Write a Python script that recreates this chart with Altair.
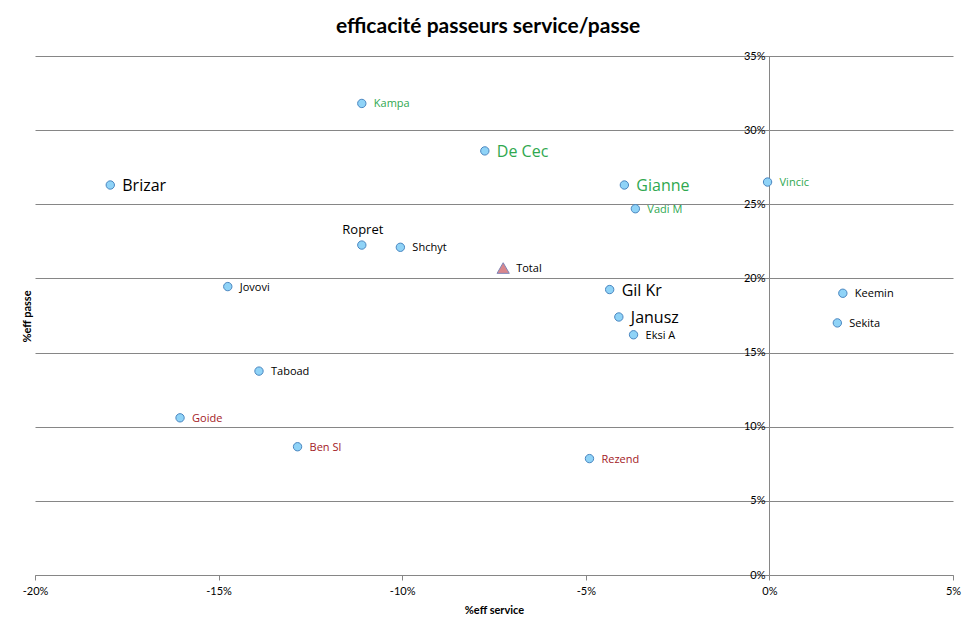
import altair as alt
import pandas as pd

# ---- data (values in %) ----
names = ["Kampa", "De Cec", "Brizar", "Gianne", "Vincic", "Vadi M", "Ropret", "Shchyt",
         "Jovovi", "Gil Kr", "Keemin", "Janusz", "Sekita", "Eksi A", "Taboad", "Goide",
         "Ben Sl", "Rezend"]
eff_service = [-11.1, -7.75, -17.95, -3.95, -0.05, -3.65, -11.1, -10.05,
               -14.75, -4.35, 2.0, -4.1, 1.85, -3.7, -13.9, -16.05,
               -12.85, -4.9]
eff_passe = [31.8, 28.6, 26.3, 26.3, 26.5, 24.7, 22.25, 22.1,
             19.45, 19.25, 19.0, 17.4, 17.0, 16.2, 13.75, 10.6,
             8.65, 7.85]
groups = ["green", "green", "black", "green", "green", "green", "black", "black",
          "black", "black", "black", "black", "black", "black", "black", "red",
          "red", "red"]

total_name = ["Total"]
total_service = [-7.25]
total_passe = [20.7]

x_ticks = [-20, -15, -10, -5, 0, 5]
y_ticks = [0, 5, 10, 15, 20, 25, 30, 35]

# ---- label styling ----
big_labels = {"Brizar": 16, "De Cec": 16, "Gianne": 16, "Gil Kr": 16, "Janusz": 16, "Ropret": 13}

df = pd.DataFrame({
    "name": names,
    "service": [v / 100 for v in eff_service],
    "passe": [v / 100 for v in eff_passe],
    "group": groups,
})
df["fs"] = [big_labels.get(n, 11) for n in names]

dft = pd.DataFrame({
    "name": total_name,
    "service": [v / 100 for v in total_service],
    "passe": [v / 100 for v in total_passe],
})

W, H = 918, 519
FONT = "Lato"
GRID = "#868686"

xenc = alt.X("service:Q",
             scale=alt.Scale(domain=[-0.20, 0.05], nice=False, zero=False),
             axis=alt.Axis(title="%eff service", format=".0%", values=[v / 100 for v in x_ticks],
                           labelExpr="replace(datum.label, '\u2212', '-')",
                           grid=False, ticks=True, tickSize=5, tickColor=GRID,
                           domainColor=GRID, labelPadding=5, labelFontSize=11,
                           labelFont=FONT, labelColor="#000", titleFont=FONT,
                           titleFontSize=11, titleFontWeight="bold", titleColor="#000",
                           titlePadding=8, labelFlush=False))
yenc = alt.Y("passe:Q",
             scale=alt.Scale(domain=[0, 0.35], nice=False),
             axis=alt.Axis(title="%eff passe", format=".0%", values=[v / 100 for v in y_ticks],
                           grid=True, gridColor=GRID, gridWidth=1, ticks=False,
                           domainColor=GRID, offset=-734, labelPadding=4,
                           labelFontSize=11, labelFont=FONT, labelColor="#000",
                           titleFont=FONT, titleFontSize=11, titleFontWeight="bold",
                           titleColor="#000", titleX=-742, titleY=260, titleAngle=270,
                           titleBaseline="middle", titleAlign="center"))

color_scale = alt.Scale(domain=["green", "red", "black"], range=["#2fa84f", "#a3191f", "#000000"])

base = alt.Chart(df)

points = base.mark_point(shape="circle", filled=True, size=70, fill="#8fd3f7",
                         stroke="#4a86c0", strokeWidth=1, opacity=1).encode(x=xenc, y=yenc)

labels = base.transform_filter("datum.name != 'Ropret'").mark_text(
    align="left", baseline="middle", dx=12, dy=1, font="Open Sans").encode(
    x="service:Q", y="passe:Q", text="name:N",
    color=alt.Color("group:N", scale=color_scale, legend=None),
    size=alt.Size("fs:Q", scale=None))

label_top = base.transform_filter("datum.name == 'Ropret'").mark_text(
    align="center", baseline="bottom", dy=-8, dx=1, font="Open Sans").encode(
    x="service:Q", y="passe:Q", text="name:N",
    color=alt.Color("group:N", scale=color_scale, legend=None),
    size=alt.Size("fs:Q", scale=None))

tot = alt.Chart(dft)
tot_point = tot.mark_point(shape="triangle-up", filled=True, size=150, fill="#d9868c",
                           stroke="#7f86b8", strokeWidth=1, opacity=1).encode(
    x="service:Q", y="passe:Q")
tot_label = tot.mark_text(align="left", baseline="middle", dx=13, dy=1, fontSize=11,
                          font="Open Sans", color="#000").encode(
    x="service:Q", y="passe:Q", text="name:N")

chart = alt.layer(points, tot_point, labels, label_top, tot_label).properties(
    width=W, height=H,
    title=alt.TitleParams("efficacité passeurs service/passe", font=FONT, fontSize=21,
                          fontWeight="bold", color="#000", anchor="middle", offset=13, dx=-6),
    autosize=alt.AutoSizeParams(type="none"),
    padding={"left": 27, "top": 48, "right": 16, "bottom": 55},
).configure(background="#ffffff").configure_view(stroke=None)

chart.save("out.html", embed_options={"renderer": "svg", "actions": False})
